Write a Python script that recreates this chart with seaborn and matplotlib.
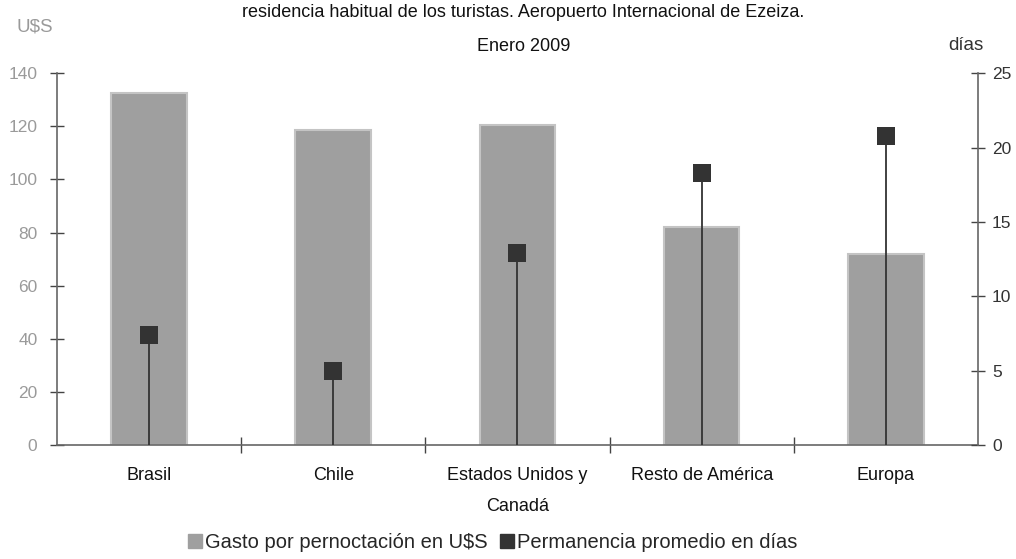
import matplotlib
matplotlib.use("Agg")
import matplotlib.pyplot as plt
import seaborn as sns
import pandas as pd
from matplotlib.lines import Line2D

# datos
regiones = ["Brasil", "Chile", "Estados Unidos y\nCanadá", "Resto de América", "Europa"]
gasto_usd = [132.5, 118.5, 120.5, 82.0, 72.0]
permanencia_dias = [7.4, 5.0, 12.9, 18.3, 20.8]

df = pd.DataFrame({"region": regiones, "gasto": gasto_usd, "dias": permanencia_dias})

sns.set_theme(style="white")
plt.rcParams["font.family"] = ["Liberation Sans", "DejaVu Sans"]

fig = plt.figure(figsize=(10.16, 5.59), dpi=100)
ax = fig.add_axes([0.056, 0.204, 0.9066, 0.665])

sns.barplot(data=df, x="region", y="gasto", ax=ax, color="#9f9f9f",
            width=0.41, edgecolor="#c4c4c4", linewidth=1.5, saturation=1)

ax2 = ax.twinx()
x_pos = list(range(len(regiones)))
ax2.vlines(x_pos, 0, df["dias"], color="#333333", linewidth=1.3, zorder=3)
sns.scatterplot(x=x_pos, y=df["dias"], ax=ax2, marker="s", s=150,
                color="#333333", edgecolor="#333333", linewidth=0, zorder=4)

ax.set_xlim(-0.5, len(regiones) - 0.5)
ax.set_ylim(0, 140)
ax2.set_ylim(0, 25)
ax.set_yticks(range(0, 141, 20))
ax2.set_yticks(range(0, 26, 5))

ax.set_xlabel("")
ax.set_ylabel("")
ax2.set_ylabel("")

# ticks
ax.tick_params(axis="y", direction="inout", length=10, width=1, color="#444444",
               labelsize=12.5, labelcolor="#9a9a9a", pad=9, left=True)
ax2.tick_params(axis="y", direction="inout", length=10, width=1, color="#444444",
                labelsize=12.5, labelcolor="#333333", pad=5, right=True)
ax.tick_params(axis="x", which="major", length=0, labelsize=13,
               labelcolor="#111111", pad=16)
for lbl in ax.get_xticklabels():
    lbl.set_linespacing(2.1)
ax.set_xticks([i + 0.5 for i in range(len(regiones) - 1)], minor=True)
ax.tick_params(axis="x", which="minor", direction="inout", length=12, width=1,
               color="#444444", bottom=True)

for a in (ax, ax2):
    a.spines["top"].set_visible(False)
    for s in ("left", "right", "bottom"):
        a.spines[s].set_color("#666666")
        a.spines[s].set_linewidth(1.2)
ax.spines["right"].set_visible(False)
ax2.spines["left"].set_visible(False)
ax2.spines["bottom"].set_visible(False)
ax2.grid(False)
ax.grid(False)

# textos
fig.text(0.515, 0.978, "residencia habitual de los turistas. Aeropuerto Internacional de Ezeiza.",
         ha="center", va="center", fontsize=13, color="#111111")
fig.text(0.515, 0.916, "Enero 2009", ha="center", va="center", fontsize=13, color="#111111")
fig.text(0.034, 0.952, "U$S", ha="center", va="center", fontsize=13.5, color="#9a9a9a")
fig.text(0.951, 0.918, "días", ha="center", va="center", fontsize=13.5, color="#333333")

handles = [
    Line2D([], [], marker="s", linestyle="", markersize=10, color="#9f9f9f",
           label="Gasto por pernoctación en U$S"),
    Line2D([], [], marker="s", linestyle="", markersize=10, color="#333333",
           label="Permanencia promedio en días"),
]
fig.legend(handles=handles, loc="center", bbox_to_anchor=(0.484, 0.03), ncol=2,
           frameon=False, fontsize=14.5, handletextpad=0.05, columnspacing=0.5,
           handlelength=0.9)

fig.savefig("out.png", dpi=100)
